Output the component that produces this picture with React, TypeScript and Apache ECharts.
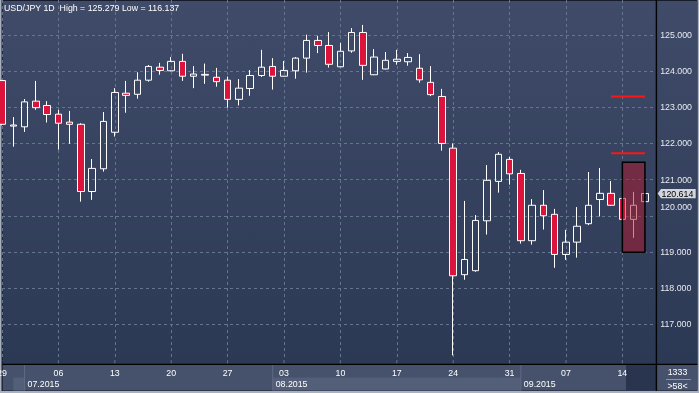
import React, { useEffect, useRef } from 'react';
import * as echarts from 'echarts';

// ---- data (USD/JPY daily) ----
const dates = [
  '2015-06-29', '2015-06-30', '2015-07-01', '2015-07-02', '2015-07-03',
  '2015-07-06', '2015-07-07', '2015-07-08', '2015-07-09', '2015-07-10',
  '2015-07-13', '2015-07-14', '2015-07-15', '2015-07-16', '2015-07-17',
  '2015-07-20', '2015-07-21', '2015-07-22', '2015-07-23', '2015-07-24',
  '2015-07-27', '2015-07-28', '2015-07-29', '2015-07-30', '2015-07-31',
  '2015-08-03', '2015-08-04', '2015-08-05', '2015-08-06', '2015-08-07',
  '2015-08-10', '2015-08-11', '2015-08-12', '2015-08-13', '2015-08-14',
  '2015-08-17', '2015-08-18', '2015-08-19', '2015-08-20', '2015-08-21',
  '2015-08-24', '2015-08-25', '2015-08-26', '2015-08-27', '2015-08-28',
  '2015-08-31', '2015-09-01', '2015-09-02', '2015-09-03', '2015-09-04',
  '2015-09-07', '2015-09-08', '2015-09-09', '2015-09-10', '2015-09-11',
  '2015-09-14', '2015-09-15', '2015-09-16',
];
const opens = [
  123.74, 122.48, 122.46, 123.17, 123.05,
  122.81, 122.59, 122.53, 120.67, 121.30,
  122.31, 123.39, 123.36, 123.75, 124.11,
  124.01, 124.27, 123.86, 123.89, 123.83,
  123.75, 123.22, 123.52, 123.88, 124.13,
  123.86, 124.01, 124.36, 124.85, 124.71,
  124.12, 124.56, 125.07, 123.90, 124.06,
  124.27, 124.26, 124.08, 123.69, 123.30,
  121.87, 118.37, 118.48, 119.86, 120.95,
  121.56, 121.17, 119.31, 120.29, 120.04,
  118.93, 119.27, 119.78, 120.45, 120.62,
  120.48, 119.90, 120.39,
];
const closes = [
  122.53, 122.51, 123.15, 122.99, 122.80,
  122.56, 122.53, 120.67, 121.31, 122.61,
  123.41, 123.33, 123.75, 124.13, 124.02,
  124.27, 123.86, 123.92, 123.91, 123.71,
  123.22, 123.53, 123.88, 124.11, 123.86,
  124.02, 124.36, 124.85, 124.71, 124.19,
  124.55, 125.07, 124.16, 124.39, 124.30,
  124.33, 124.38, 123.76, 123.35, 122.00,
  118.34, 118.79, 119.87, 120.98, 121.70,
  121.16, 119.31, 120.29, 120.00, 118.93,
  119.27, 119.71, 120.29, 120.62, 120.29,
  119.90, 120.29, 120.614,
];
const lows = [
  122.50, 121.91, 122.32, 122.93, 122.58,
  121.83, 121.99, 120.39, 120.44, 121.22,
  122.19, 122.85, 123.24, 123.71, 123.90,
  124.00, 123.73, 123.53, 123.65, 123.57,
  122.99, 123.05, 123.32, 123.84, 123.49,
  123.85, 123.79, 123.96, 124.50, 124.10,
  124.11, 124.51, 123.76, 123.89, 124.05,
  124.18, 124.15, 123.68, 123.31, 121.80,
  116.137, 118.23, 118.45, 119.48, 120.64,
  120.86, 119.23, 119.20, 119.62, 118.56,
  118.78, 118.84, 119.74, 119.98, 120.27,
  119.88, 119.39, 120.38,
];
const highs = [
  123.76, 122.73, 123.23, 123.73, 123.17,
  122.93, 122.90, 122.56, 121.57, 122.87,
  123.53, 123.73, 123.97, 124.17, 124.23,
  124.39, 124.48, 124.14, 124.21, 124.09,
  123.85, 123.78, 124.03, 124.59, 124.36,
  124.28, 124.39, 125.01, 124.98, 125.08,
  124.78, 125.19, 125.279, 124.61, 124.53,
  124.59, 124.50, 124.47, 124.14, 123.51,
  122.00, 120.41, 120.02, 121.40, 121.76,
  121.63, 121.27, 120.46, 120.71, 120.19,
  119.61, 120.24, 121.21, 121.32, 120.96,
  120.50, 120.66, 120.63,
];

// ---- chart annotations (data units: bar index / price) ----
const symbolName = 'USD/JPY';
const periodName = '1D';
const levelPrices = [123.30, 121.727];
const levelFrom = 54;
const levelTo = 57;
const boxFrom = 55;
const boxTo = 57;
const boxTop = 121.479;
const boxBottom = 118.989;
const monthLabels = ['07.2015', '08.2015', '09.2015'];
const monthStarts = [2, 24, 46];
const shadedBands = [[1, 2], [24, 46]];
const futureFrom = 55.33;
const footerTop = '1333';

// pick a narrow font if installed and size it so "125.000" is ~31.7px wide
function pickFont() {
  const ctx = document.createElement('canvas').getContext('2d');
  let fam = "'Liberation Sans', Arial, sans-serif";
  let size = 9;
  if (!ctx) return { fam, size };
  const sample = '125.000 USD/JPY Low';
  ctx.font = '20px monospace';
  const wMono = ctx.measureText(sample).width;
  ctx.font = "20px 'Liberation Sans Narrow', monospace";
  const wNarrow = ctx.measureText(sample).width;
  if (Math.abs(wNarrow - wMono) > 0.5) fam = "'Liberation Sans Narrow', 'Liberation Sans', sans-serif";
  ctx.font = `20px ${fam}`;
  const w = ctx.measureText('125.000').width;
  if (w > 0) size = Math.min(12, Math.max(8, (20 * 31.7) / w));
  return { fam, size: Math.round(size * 10) / 10 };
}

export default function App() {
  const ref = useRef<HTMLDivElement>(null);

  useEffect(() => {
    if (!ref.current) return;
    const { fam: FONT, size: FS } = pickFont();
    const chart = echarts.init(ref.current, null, { renderer: 'svg', width: 699, height: 393 });
    const cats = [...dates, ''];
    const data = dates.map((_, i) => [opens[i], closes[i], lows[i], highs[i]]);
    const hi = Math.max(...highs);
    const lo = Math.min(...lows);
    const lastClose = closes[closes.length - 1];

    const gridLine = { color: '#66758f', type: [3, 3] as number[], width: 1 };

    chart.setOption({
      animation: false,
      title: {
        text: `${symbolName} ${periodName}\u00a0 High = ${hi.toFixed(3)} Low = ${lo.toFixed(3)}`,
        left: 4,
        top: 2,
        padding: 0,
        textStyle: { color: '#ffffff', fontSize: FS, fontWeight: 'normal', fontFamily: FONT, lineHeight: 12 },
      },
      grid: { left: 2, right: 42.8, top: 0, bottom: 32.65, outerBoundsMode: 'none', containLabel: false },
      xAxis: {
        type: 'category',
        data: cats,
        boundaryGap: false,
        axisLine: { show: false },
        axisTick: { show: false },
        axisLabel: {
          interval: (i: number) => i % 5 === 0 && i < dates.length,
          formatter: (v: string) => v.slice(8, 10),
          color: '#ffffff',
          fontSize: FS,
          fontFamily: FONT,
          lineHeight: 9,
          margin: 13,
          verticalAlign: 'middle',
          hideOverlap: false,
        },
        splitLine: { show: true, interval: (i: number) => i % 5 === 0, lineStyle: gridLine },
      },
      yAxis: {
        type: 'value',
        position: 'right',
        min: 116,
        max: 125.9682,
        interval: 1,
        axisLine: { show: false },
        axisTick: { show: false },
        splitLine: { show: true, showMinLine: false, showMaxLine: false, lineStyle: gridLine },
        axisLabel: {
          margin: 4,
          color: '#e8ebf0',
          fontSize: FS,
          fontFamily: FONT,
          formatter: (v: number) => {
            if (Math.abs(v - Math.round(v)) > 1e-6 || v < 117 || v > 125) return '';
            if (v === 120) return '{up|' + v.toFixed(3) + '}';
            return v.toFixed(3);
          },
          rich: {
            up: { padding: [0, 0, 17, 0], color: '#e8ebf0', fontSize: FS, fontFamily: FONT },
          },
        },
      },
      series: [
        {
          type: 'candlestick',
          data,
          barWidth: 7,
          itemStyle: {
            color: 'rgba(0,0,0,0)',
            color0: '#dc143c',
            borderColor: '#ffffff',
            borderColor0: '#ffffff',
            borderColorDoji: '#ffffff',
            borderWidth: 1,
          },
        },
      ],
    });

    const x0 = chart.convertToPixel({ xAxisIndex: 0 }, 0) as number;
    const x1 = chart.convertToPixel({ xAxisIndex: 0 }, 1) as number;
    const px = (i: number) => x0 + (x1 - x0) * i;
    const py = (p: number) => chart.convertToPixel({ yAxisIndex: 0 }, p) as number;

    const plotRight = px(cats.length - 1);
    const mkBg = () =>
      new echarts.graphic.LinearGradient(0, 0, 0, 1, [
        { offset: 0, color: '#3f4b68' },
        { offset: 1, color: '#2c3955' },
      ]);

    const tagY = py(lastClose);
    const graphics: any[] = [
      { type: 'rect', z: -20, shape: { x: 0, y: 0, width: 699, height: 393 }, style: { fill: '#aab1be' } },
      { type: 'rect', z: -19, shape: { x: 1.5, y: 0, width: 696, height: 391 }, style: { fill: '#161c2a' } },
      { type: 'rect', z: -18, shape: { x: 2.7, y: 1, width: plotRight - 2.7, height: 363 }, style: { fill: mkBg() } },
      { type: 'rect', z: -18, shape: { x: plotRight + 1, y: 1, width: 697.5 - plotRight - 1, height: 363 }, style: { fill: mkBg() } },
      { type: 'rect', z: -18, shape: { x: 2.7, y: 365, width: plotRight - 2.7, height: 25.5 }, style: { fill: '#46526c' } },
      { type: 'rect', z: -18, shape: { x: plotRight + 1, y: 365, width: 697.5 - plotRight - 1, height: 25.5 }, style: { fill: '#46526c' } },
      ...shadedBands.map(([a, b]) => ({
        type: 'rect', z: -17,
        shape: { x: px(a), y: 377.5, width: px(b) - px(a), height: 13 },
        style: { fill: '#535f78' },
      })),
      {
        type: 'rect', z: -17,
        shape: { x: px(futureFrom), y: 365, width: plotRight - px(futureFrom), height: 25.5 },
        style: { fill: '#29344e' },
      },
      ...monthStarts.map((m) => ({
        type: 'line', z: -16,
        shape: { x1: px(m), y1: 365, x2: px(m), y2: 390.5 },
        style: { stroke: '#5f6b85', lineWidth: 1 },
      })),
      ...monthStarts.map((m, k) => ({
        type: 'text', z: 10,
        x: px(m) + 3, y: 383.5,
        style: { text: monthLabels[k], fill: '#ffffff', fontSize: FS, fontFamily: FONT, lineHeight: 9, align: 'left', verticalAlign: 'middle' },
      })),
      // vertical grid extension into the strip above the date panel
      ...dates.map((_, i) => i).filter((i) => i % 5 === 0 && i > 0).map((i) => ({
        type: 'line', z: -1,
        shape: { x1: px(i), y1: py(116), x2: px(i), y2: 363.5 },
        style: { stroke: '#66758f', lineWidth: 1, lineDash: [3, 3] },
      })),
      { type: 'rect', z: 5, shape: { x: plotRight - 0.5, y: 0, width: 1.2, height: 391 }, style: { fill: '#000000' } },
      { type: 'rect', z: 5, shape: { x: 2.7, y: 363.8, width: 694.8, height: 1.2 }, style: { fill: '#000000' } },
      // annotation box
      {
        type: 'rect', z: 100,
        shape: { x: px(boxFrom), y: py(boxTop), width: px(boxTo) - px(boxFrom), height: py(boxBottom) - py(boxTop) },
        style: { fill: 'rgba(175,22,40,0.5)', stroke: '#000000', lineWidth: 1.5 },
      },
      ...levelPrices.map((p) => ({
        type: 'line', z: 100,
        shape: { x1: px(levelFrom), y1: py(p), x2: px(levelTo), y2: py(p) },
        style: { stroke: '#ff1515', lineWidth: 2 },
      })),
      // last price tag
      {
        type: 'polygon', z: 100,
        shape: { points: [[657.7, tagY], [661, tagY - 4.6], [695.7, tagY - 4.6], [695.7, tagY + 4.6], [661, tagY + 4.6]] },
        style: { fill: '#d3d6dc' },
      },
      {
        type: 'text', z: 101,
        x: 661.5, y: tagY,
        style: { text: lastClose.toFixed(3), fill: '#000000', fontSize: FS, fontFamily: FONT, lineHeight: 9, align: 'left', verticalAlign: 'middle' },
      },
      // footer box
      {
        type: 'text', z: 10, x: 677.5, y: 371.5,
        style: { text: footerTop, fill: '#ffffff', fontSize: FS, fontFamily: FONT, lineHeight: 9, align: 'center', verticalAlign: 'middle' },
      },
      {
        type: 'line', z: 10,
        shape: { x1: 666, y1: 379.5, x2: 691, y2: 379.5 },
        style: { stroke: '#8d96a8', lineWidth: 1 },
      },
      {
        type: 'text', z: 10, x: 677.5, y: 386,
        style: { text: `>${dates.length}<`, fill: '#ffffff', fontSize: FS, fontFamily: FONT, lineHeight: 9, align: 'center', verticalAlign: 'middle' },
      },
    ];
    chart.setOption({ graphic: graphics });

    return () => chart.dispose();
  }, []);

  return <div ref={ref} style={{ position: 'fixed', left: 0, top: 0, width: 699, height: 393 }} />;
}
